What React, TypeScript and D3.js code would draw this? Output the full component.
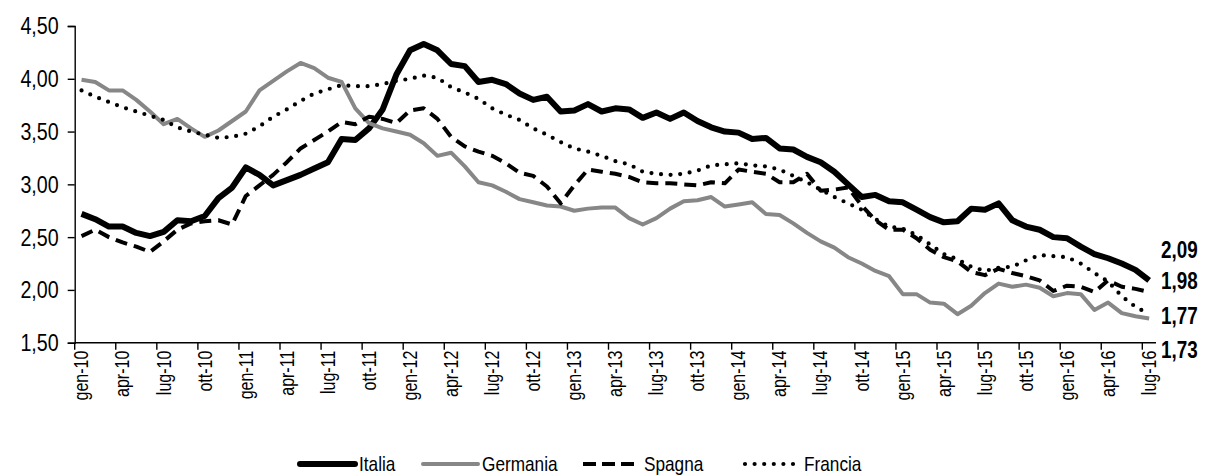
import { useEffect, useRef } from 'react';
import * as d3 from 'd3';

// categories: monthly, gen-10 .. lug-16
const monthNames = ['gen', 'feb', 'mar', 'apr', 'mag', 'giu', 'lug', 'ago', 'set', 'ott', 'nov', 'dic'];
const years = ['10', '11', '12', '13', '14', '15', '16'];
const allMonths: string[] = [];
years.forEach(y => monthNames.forEach(m => allMonths.push(`${m}-${y}`)));
const categories = allMonths.slice(0, allMonths.indexOf('lug-16') + 1);

const italia = [
  2.72, 2.67, 2.60, 2.60, 2.54, 2.51, 2.55, 2.66, 2.65, 2.70, 2.87, 2.97,
  3.16, 3.09, 2.99, 3.04, 3.09, 3.15, 3.21, 3.43, 3.42, 3.53, 3.71, 4.04,
  4.27, 4.33, 4.27, 4.14, 4.12, 3.97, 3.99, 3.95, 3.86, 3.80, 3.83, 3.69,
  3.70, 3.76, 3.69, 3.72, 3.71, 3.63, 3.68, 3.62, 3.68, 3.60, 3.54, 3.50,
  3.49, 3.43, 3.44, 3.34, 3.33, 3.26, 3.21, 3.12, 3.00, 2.88, 2.90, 2.84,
  2.83, 2.76, 2.69, 2.64, 2.65, 2.77, 2.76, 2.82, 2.66, 2.60, 2.57, 2.50,
  2.49, 2.41, 2.34, 2.30, 2.25, 2.19, 2.09,
];

const germania = [
  3.99, 3.97, 3.89, 3.89, 3.80, 3.69, 3.57, 3.62, 3.53, 3.45, 3.51, 3.60,
  3.69, 3.89, 3.98, 4.07, 4.15, 4.10, 4.01, 3.97, 3.72, 3.58, 3.53, 3.50,
  3.47, 3.39, 3.27, 3.30, 3.17, 3.02, 2.99, 2.93, 2.86, 2.83, 2.80, 2.79,
  2.75, 2.77, 2.78, 2.78, 2.68, 2.62, 2.68, 2.77, 2.84, 2.85, 2.88, 2.79,
  2.81, 2.83, 2.72, 2.71, 2.63, 2.54, 2.46, 2.40, 2.31, 2.25, 2.18, 2.13,
  1.96, 1.96, 1.88, 1.87, 1.77, 1.85, 1.97, 2.06, 2.03, 2.05, 2.02, 1.94,
  1.97, 1.96, 1.81, 1.88, 1.78, 1.75, 1.73,
];

const spagna = [
  2.51, 2.57, 2.50, 2.45, 2.41, 2.36, 2.46, 2.57, 2.63, 2.65, 2.66, 2.62,
  2.89, 2.99, 3.09, 3.21, 3.34, 3.42, 3.50, 3.59, 3.57, 3.64, 3.62, 3.58,
  3.70, 3.72, 3.62, 3.45, 3.36, 3.31, 3.27, 3.20, 3.11, 3.08, 2.98, 2.82,
  2.99, 3.14, 3.12, 3.10, 3.07, 3.02, 3.01, 3.01, 3.00, 2.99, 3.02, 3.01,
  3.14, 3.12, 3.10, 3.02, 3.02, 3.10, 2.94, 2.95, 2.97, 2.80, 2.66, 2.57,
  2.57, 2.49, 2.38, 2.31, 2.27, 2.17, 2.14, 2.20, 2.16, 2.13, 2.09, 1.99,
  2.04, 2.03, 1.98, 2.09, 2.03, 2.01, 1.98,
];

const francia = [
  3.89, 3.83, 3.78, 3.73, 3.69, 3.65, 3.61, 3.54, 3.50, 3.47, 3.44, 3.45,
  3.48, 3.55, 3.64, 3.71, 3.79, 3.86, 3.90, 3.94, 3.93, 3.93, 3.95, 3.98,
  4.00, 4.03, 4.01, 3.92, 3.87, 3.81, 3.72, 3.66, 3.61, 3.53, 3.47, 3.40,
  3.34, 3.31, 3.27, 3.22, 3.19, 3.12, 3.10, 3.09, 3.10, 3.13, 3.18, 3.19,
  3.20, 3.18, 3.17, 3.14, 3.08, 3.02, 2.95, 2.88, 2.82, 2.76, 2.67, 2.60,
  2.58, 2.52, 2.43, 2.34, 2.29, 2.22, 2.18, 2.21, 2.22, 2.28, 2.33, 2.32,
  2.31, 2.25, 2.16, 2.08, 1.94, 1.84, 1.77,
];

const seriesNames = ['Italia', 'Germania', 'Spagna', 'Francia'];
const seriesValues = [italia, germania, spagna, francia];
const yTicks = [1.5, 2.0, 2.5, 3.0, 3.5, 4.0, 4.5];

const styles = [
  { color: '#000000', width: 6, dash: null as string | null, cap: 'butt' },
  { color: '#878787', width: 4, dash: null as string | null, cap: 'butt' },
  { color: '#000000', width: 4, dash: '12 7', cap: 'butt' },
  { color: '#000000', width: 4.2, dash: '0 9.6', cap: 'round' },
];
// vertical nudge of the end-of-line labels (Italia, Germania, Spagna, Francia)
const endLabelDy = [-30, 32, -11, 2];
const legendX = [300, 423, 583, 745];

const FONT = '"Liberation Sans", Arial, sans-serif';
const NARROW = 0.82; // the original uses a condensed face
const fmt = (v: number) => d3.format('.2f')(v).replace('.', ',');

type Sel = d3.Selection<SVGSVGElement | SVGGElement, unknown, null, undefined>;

// condensed text helper
function label(parent: Sel, x: number, y: number, txt: string, size: number, anchor = 'start', bold = false, rotate = 0) {
  return parent.append('text')
    .attr('transform', `translate(${x},${y}) rotate(${rotate}) scale(${NARROW},1)`)
    .attr('text-anchor', anchor)
    .attr('dy', '0.35em')
    .attr('font-family', FONT)
    .attr('font-size', size)
    .attr('font-weight', bold ? 'bold' : 'normal')
    .attr('fill', '#000')
    .text(txt);
}

export default function App() {
  const ref = useRef<SVGSVGElement>(null);

  useEffect(() => {
    if (!ref.current) return;
    const svg = d3.select(ref.current) as unknown as Sel;
    svg.selectAll('*').remove();

    const left = 74.7, right = 1156, top = 26, bottom = 342.7;

    const x = d3.scaleBand<string>().domain(categories).range([left, right]).paddingInner(0).paddingOuter(0);
    const bw = x.bandwidth();
    const y = d3.scaleLinear().domain([1.5, 4.5]).range([bottom, top]);
    const cx = (c: string) => (x(c) as number) + bw / 2;

    // y axis
    const yAxis = svg.append('g')
      .attr('transform', `translate(${left},0)`)
      .call(d3.axisLeft(y).tickValues(yTicks).tickSize(7).tickFormat(() => '') as any);
    yAxis.select('.domain').attr('stroke', '#000').attr('stroke-width', 1.4);
    yAxis.selectAll('.tick line').attr('stroke', '#000').attr('stroke-width', 1.4);
    yTicks.forEach(t => label(svg, left - 16, y(t), fmt(t), 24, 'end'));

    // x axis
    const xg = svg.append('g') as unknown as Sel;
    xg.append('line')
      .attr('x1', left).attr('x2', right).attr('y1', bottom).attr('y2', bottom)
      .attr('stroke', '#000').attr('stroke-width', 1.4);
    const tickCats = categories.filter((_, i) => i % 3 === 0);
    xg.selectAll('line.tk')
      .data(tickCats)
      .enter()
      .append('line')
      .attr('class', 'tk')
      .attr('x1', d => x(d) as number).attr('x2', d => x(d) as number)
      .attr('y1', bottom).attr('y2', bottom + 7)
      .attr('stroke', '#000').attr('stroke-width', 1.4);
    tickCats.forEach(c => label(xg, cx(c), bottom + 8, c, 19.5, 'end', false, -90));

    // lines
    seriesValues.forEach((vals, si) => {
      const st = styles[si];
      const line = d3.line<number>()
        .x((_, i) => cx(categories[i]))
        .y(d => y(d));
      const p = svg.append('path')
        .datum(vals)
        .attr('fill', 'none')
        .attr('stroke', st.color)
        .attr('stroke-width', st.width)
        .attr('stroke-linejoin', 'round')
        .attr('stroke-linecap', st.cap)
        .attr('d', line);
      if (st.dash) p.attr('stroke-dasharray', st.dash);
    });

    // end labels
    seriesValues.forEach((vals, si) => {
      const last = vals[vals.length - 1];
      label(svg, right + 5, y(last) + endLabelDy[si], fmt(last), 23, 'start', true);
    });

    // legend
    const ly = 464;
    seriesNames.forEach((name, si) => {
      const st = styles[si];
      const lx = legendX[si];
      const l = svg.append('line')
        .attr('x1', lx).attr('x2', lx + 55).attr('y1', ly).attr('y2', ly)
        .attr('stroke', st.color).attr('stroke-width', st.width)
        .attr('stroke-linecap', si === 0 || si === 1 ? 'round' : st.cap);
      if (st.dash) l.attr('stroke-dasharray', si === 2 ? '13 6' : st.dash);
      label(svg, lx + (si === 2 ? 61 : 59), ly, name, 21);
    });
  }, []);

  return (
    <svg
      ref={ref}
      width={1210}
      height={475}
      style={{ position: 'absolute', left: 0, top: 0, background: '#fff' }}
    />
  );
}
